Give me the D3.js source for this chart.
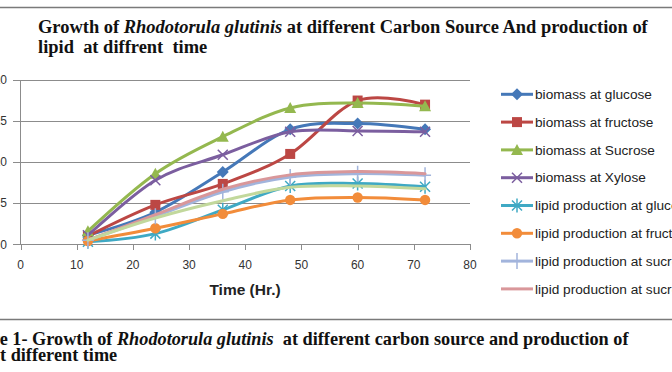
<!DOCTYPE html>
<html><head><meta charset="utf-8">
<script src="https://cdn.jsdelivr.net/npm/d3@7"></script>
<style>body{margin:0;background:#fff} svg{display:block}</style>
</head><body>
<svg id="c" width="672" height="372"></svg>
<script>
// ---- data ----
const times = [12, 24, 36, 48, 60, 72];
const biomassGlucose  = [1.1, 3.9, 8.8, 14.0, 14.7, 14.0];
const biomassFructose = [1.0, 4.8, 7.35, 11.0, 17.5, 17.0];
const biomassSucrose  = [1.6, 8.6, 13.1, 16.6, 17.2, 16.8];
const biomassXylose   = [1.1, 7.8, 10.9, 13.7, 13.8, 13.7];
const lipidGlucose    = [0.3, 1.3, 4.2, 7.1, 7.4, 7.0];
const lipidFructose   = [0.4, 1.95, 3.7, 5.4, 5.7, 5.4];
const lipidSucrose    = [0.5, 3.4, 6.4, 8.2, 8.6, 8.4];
const lipidSucrose2   = [0.5, 3.6, 6.7, 8.45, 8.85, 8.6];
const lipidXylose     = [0.5, 3.2, 5.3, 6.95, 7.1, 6.75];
const seriesNames = ["biomass at glucose","biomass at fructose","biomass at Sucrose","biomass at Xylose",
  "lipid production at glucose","lipid production at fructose","lipid production at sucrose",
  "lipid production at sucrose","lipid production at xylose"];
const seriesColors = ["#4578B8","#BC4744","#94B84F","#7B5E9F","#3FA9C4","#F28C3A","#A2B4DC","#D9979A","#C2D89C"];
const seriesMarkers = ["diamond","square","triangle","x","star","circle","plus","none","none"];
const inLegend = [true,true,true,true,true,true,true,true,false];
const xTicks = [0,10,20,30,40,50,60,70,80];
const yTicks = [0,5,10,15,20];
const titleLine1 = ["Growth of ", "Rhodotorula glutinis", " at different Carbon Source And production of"];
const titleLine2 = "lipid  at diffrent  time";
const captionLine1 = ["Figure 1- Growth of ", "Rhodotorula glutinis", "  at different carbon source and production of"];
const captionLine2 = "lipid at different time";
const xAxisTitle = "Time (Hr.)";

const allValues = [biomassGlucose,biomassFructose,biomassSucrose,biomassXylose,lipidGlucose,lipidFructose,lipidSucrose,lipidSucrose2,lipidXylose];

// ---- drawing ----
const svg = d3.select("#c");
const x = d3.scaleLinear().domain([0,80]).range([20.5,470]);
const y = d3.scaleLinear().domain([0,20]).range([244.3,80]);
const gridCol = "#8c8c8c";

// rules
svg.append("line").attr("x1",0).attr("x2",672).attr("y1",7.5).attr("y2",7.5).attr("stroke","#7a7a7a").attr("stroke-width",1.5);
svg.append("line").attr("x1",0).attr("x2",672).attr("y1",319.5).attr("y2",319.5).attr("stroke","#7a7a7a").attr("stroke-width",1.5);

function richText(parts, xPos, yPos, size) {
  const t = svg.append("text").attr("x",xPos).attr("y",yPos)
    .attr("font-family","'Liberation Serif','Times New Roman',serif").attr("font-weight","bold")
    .attr("font-size",size).attr("fill","#111");
  if (Array.isArray(parts)) {
    parts.forEach((p,i)=> t.append("tspan").text(p).attr("font-style", i===1?"italic":"normal").attr("xml:space","preserve").style("white-space","pre"));
  } else t.text(parts).style("white-space","pre");
  return t;
}
// title fitted to measured width
let t1 = richText(titleLine1, 38, 33, 17.5);
let w1 = t1.node().getComputedTextLength();
const tSize = 17.5*610/w1;
t1.attr("font-size", tSize);
richText(titleLine2, 38, 53, tSize);

// caption
let tmp = richText("Figur", 0, -50, 17.5);
let c1 = richText(captionLine1, 0, 345, 17.5);
const cw = c1.node().getComputedTextLength() - tmp.node().getComputedTextLength();
const cSize = 17.5*629/cw;
tmp.attr("font-size", cSize);
const figurW = tmp.node().getComputedTextLength();
tmp.remove();
c1.attr("font-size", cSize).attr("x", -figurW);
let c2 = richText(captionLine2, 0, 361, cSize);
let tmp2 = richText("lipid a", 0, -50, cSize);
c2.attr("x", -tmp2.node().getComputedTextLength());
tmp2.remove();

// grid + axes
const g = svg.append("g");
yTicks.forEach(v=>{
  g.append("line").attr("x1",13).attr("x2",470).attr("y1",Math.round(y(v))+0.5).attr("y2",Math.round(y(v))+0.5).attr("stroke",gridCol).attr("stroke-width",1);
  g.append("text").attr("x",7).attr("y",y(v)).attr("dy","0.35em").attr("text-anchor","end")
    .attr("font-family","'Liberation Sans',Arial,sans-serif").attr("font-size",12).attr("fill","#333").text(v);
});
g.append("line").attr("x1",20.5).attr("x2",20.5).attr("y1",80).attr("y2",244.5).attr("stroke",gridCol);
xTicks.forEach(v=>{
  g.append("line").attr("x1",Math.round(x(v))+0.5).attr("x2",Math.round(x(v))+0.5).attr("y1",244).attr("y2",250).attr("stroke",gridCol);
  g.append("text").attr("x",x(v)).attr("y",265).attr("dy","0.35em").attr("text-anchor","middle")
    .attr("font-family","'Liberation Sans',Arial,sans-serif").attr("font-size",12).attr("fill","#333").text(v);
});
svg.append("text").attr("x",245).attr("y",295).attr("text-anchor","middle")
  .attr("font-family","'Liberation Sans',Arial,sans-serif").attr("font-weight","bold").attr("font-size",15.5).attr("fill","#222").text(xAxisTitle);

// markers
function drawMarker(sel, type, cx, cy, col) {
  const gm = sel.append("g").attr("transform",`translate(${cx},${cy})`);
  if (type==="diamond") gm.append("path").attr("d","M0,-6L6,0L0,6L-6,0Z").attr("fill",col);
  else if (type==="square") gm.append("rect").attr("x",-5).attr("y",-5).attr("width",10).attr("height",10).attr("fill",col);
  else if (type==="triangle") gm.append("path").attr("d","M0,-6L6,5L-6,5Z").attr("fill",col);
  else if (type==="circle") gm.append("circle").attr("r",5.2).attr("fill",col);
  else if (type==="x") gm.append("path").attr("d","M-5,-5L5,5M-5,5L5,-5").attr("stroke",col).attr("stroke-width",1.5);
  else if (type==="star") gm.append("path").attr("d","M-5,-5L5,5M-5,5L5,-5M0,-7L0,7").attr("stroke",col).attr("stroke-width",1.5);
  else if (type==="plus") gm.append("path").attr("d","M0,-8L0,8M-6,0L6,0").attr("stroke",col).attr("stroke-width",1.5);
}

const line = d3.line().x(d=>x(d[0])).y(d=>y(d[1])).curve(d3.curveCardinal.tension(0));
const plot = svg.append("g");
allValues.forEach((vals,i)=>{
  const pts = times.map((t,j)=>[t, vals[j]]);
  plot.append("path").attr("d", line(pts)).attr("fill","none").attr("stroke",seriesColors[i]).attr("stroke-width",3).attr("stroke-linejoin","round").attr("stroke-linecap","round");
  pts.forEach(p=> drawMarker(plot, seriesMarkers[i], x(p[0]), y(p[1]), seriesColors[i]));
});

// legend
const lg = svg.append("g");
let probe = lg.append("text").attr("font-family","'Liberation Sans',Arial,sans-serif").attr("font-size",13).text(seriesNames[0]);
const lSize = 13*117/probe.node().getComputedTextLength();
probe.remove();
let k = 0;
seriesNames.forEach((n,i)=>{
  if (!inLegend[i]) return;
  const ly = 94.3 + k*27.8;
  lg.append("line").attr("x1",501).attr("x2",533).attr("y1",ly).attr("y2",ly).attr("stroke",seriesColors[i]).attr("stroke-width",3);
  drawMarker(lg, seriesMarkers[i], 517, ly, seriesColors[i]);
  lg.append("text").attr("x",535).attr("y",ly).attr("dy","0.35em").attr("font-family","'Liberation Sans',Arial,sans-serif")
    .attr("font-size",lSize).attr("fill","#222").text(n);
  k++;
});
</script>
</body></html>
